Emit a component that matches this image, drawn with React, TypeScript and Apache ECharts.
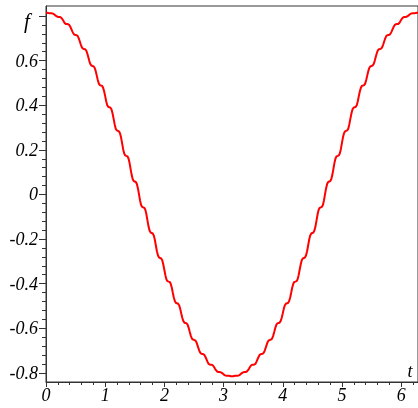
import React, { useEffect, useRef } from "react";
import * as echarts from "echarts";

// sampling step of t (the curve is read at 353 evenly spaced t values, 0 .. 2π)
const T_STEP = 0.01785;

// f values, t from 0 to π/2
const F_Q1 = [
  0.815, 0.815, 0.814, 0.813, 0.813, 0.813, 0.812, 0.810, 0.807, 0.802,
  0.799, 0.797, 0.796, 0.796, 0.794, 0.789, 0.782, 0.774, 0.767, 0.764,
  0.764, 0.763, 0.760, 0.752, 0.741, 0.730, 0.721, 0.716, 0.715, 0.714,
  0.710, 0.700, 0.686, 0.671, 0.659, 0.654, 0.652, 0.651, 0.646, 0.633,
  0.616, 0.598, 0.584, 0.578, 0.576, 0.575, 0.568, 0.554, 0.534, 0.513,
  0.497, 0.490, 0.488, 0.487, 0.479, 0.463, 0.441, 0.417, 0.400, 0.392,
  0.391, 0.389, 0.381, 0.363, 0.339, 0.314, 0.295, 0.287, 0.285, 0.283,
  0.274, 0.256, 0.230, 0.203, 0.184, 0.175, 0.173, 0.171, 0.162, 0.143,
  0.116, 0.089, 0.069, 0.060, 0.058, 0.056, 0.047, 0.027, 0.000,
];
// t from π/2 to π
const F_Q2 = [
  -0.027, -0.047, -0.056, -0.058, -0.060, -0.069, -0.089, -0.116, -0.143, -0.162,
  -0.171, -0.173, -0.175, -0.184, -0.203, -0.230, -0.256, -0.274, -0.283, -0.285,
  -0.287, -0.295, -0.314, -0.339, -0.363, -0.381, -0.389, -0.391, -0.392, -0.400,
  -0.417, -0.441, -0.463, -0.479, -0.487, -0.488, -0.490, -0.497, -0.513, -0.534,
  -0.554, -0.568, -0.575, -0.576, -0.578, -0.584, -0.598, -0.616, -0.633, -0.646,
  -0.651, -0.652, -0.654, -0.659, -0.671, -0.686, -0.700, -0.710, -0.714, -0.715,
  -0.716, -0.721, -0.730, -0.741, -0.752, -0.760, -0.763, -0.764, -0.764, -0.767,
  -0.774, -0.782, -0.789, -0.794, -0.796, -0.796, -0.797, -0.799, -0.802, -0.807,
  -0.810, -0.812, -0.813, -0.813, -0.813, -0.814, -0.815, -0.815,
];
// t from π to 3π/2
const F_Q3 = [
  -0.815, -0.814, -0.813, -0.813, -0.813, -0.812, -0.810, -0.807, -0.802, -0.799,
  -0.797, -0.796, -0.796, -0.794, -0.789, -0.782, -0.774, -0.767, -0.764, -0.764,
  -0.763, -0.760, -0.752, -0.741, -0.730, -0.721, -0.716, -0.715, -0.714, -0.710,
  -0.700, -0.686, -0.671, -0.659, -0.654, -0.652, -0.651, -0.646, -0.633, -0.616,
  -0.598, -0.584, -0.578, -0.576, -0.575, -0.568, -0.554, -0.534, -0.513, -0.497,
  -0.490, -0.488, -0.487, -0.479, -0.463, -0.441, -0.417, -0.400, -0.392, -0.391,
  -0.389, -0.381, -0.363, -0.339, -0.314, -0.295, -0.287, -0.285, -0.283, -0.274,
  -0.256, -0.230, -0.203, -0.184, -0.175, -0.173, -0.171, -0.162, -0.143, -0.116,
  -0.089, -0.069, -0.060, -0.058, -0.056, -0.047, -0.027, 0.000,
];
// t from 3π/2 to 2π
const F_Q4 = [
  0.027, 0.047, 0.056, 0.058, 0.060, 0.069, 0.089, 0.116, 0.143, 0.162,
  0.171, 0.173, 0.175, 0.184, 0.203, 0.230, 0.256, 0.274, 0.283, 0.285,
  0.287, 0.295, 0.314, 0.339, 0.363, 0.381, 0.389, 0.391, 0.392, 0.400,
  0.417, 0.441, 0.463, 0.479, 0.487, 0.488, 0.490, 0.497, 0.513, 0.534,
  0.554, 0.568, 0.575, 0.576, 0.578, 0.584, 0.598, 0.616, 0.633, 0.646,
  0.651, 0.652, 0.654, 0.659, 0.671, 0.686, 0.700, 0.710, 0.714, 0.715,
  0.716, 0.721, 0.730, 0.741, 0.752, 0.760, 0.763, 0.764, 0.764, 0.767,
  0.774, 0.782, 0.789, 0.794, 0.796, 0.796, 0.797, 0.799, 0.802, 0.807,
  0.810, 0.812, 0.813, 0.813, 0.813, 0.814, 0.815, 0.815,
];

const X_MIN = 0;
const X_MAX = 6.2832;
const Y_MIN = -0.841;
const Y_MAX = 0.845;

const X_MAJOR = [0, 1, 2, 3, 4, 5, 6];
const X_MINOR = [
  0.2, 0.4, 0.6, 0.8, 1.2, 1.4, 1.6, 1.8, 2.2, 2.4, 2.6, 2.8,
  3.2, 3.4, 3.6, 3.8, 4.2, 4.4, 4.6, 4.8, 5.2, 5.4, 5.6, 5.8, 6.2,
];
const Y_MAJOR = [-0.8, -0.6, -0.4, -0.2, 0, 0.2, 0.4, 0.6, 0.8];
const Y_LABELS = [-0.8, -0.6, -0.4, -0.2, 0, 0.2, 0.4, 0.6];
const Y_MINOR = [
  -0.76, -0.72, -0.68, -0.64, -0.56, -0.52, -0.48, -0.44,
  -0.36, -0.32, -0.28, -0.24, -0.16, -0.12, -0.08, -0.04,
  0.04, 0.08, 0.12, 0.16, 0.24, 0.28, 0.32, 0.36,
  0.44, 0.48, 0.52, 0.56, 0.64, 0.68, 0.72, 0.76,
];

const X_NAME = "t";
const Y_NAME = "f";

const AXIS_COLOR = "#333333";
const FONT = '"Liberation Serif", "Times New Roman", serif';

export default function App() {
  const ref = useRef<HTMLDivElement | null>(null);

  useEffect(() => {
    if (!ref.current) return;
    const chart = echarts.init(ref.current, null, { renderer: "svg" });
    const values = [...F_Q1, ...F_Q2, ...F_Q3, ...F_Q4];
    const data = values.map((f, i) => [i * T_STEP, f]);

    const labelStyle = {
      fontFamily: FONT,
      fontStyle: "italic" as const,
      fontSize: 18,
      color: "#000",
    };

    chart.setOption({
      animation: false,
      grid: {
        left: 46,
        right: -6,
        top: 6,
        bottom: 26,
        show: true,
        borderColor: AXIS_COLOR,
        borderWidth: 1,
        backgroundColor: "transparent",
      },
      xAxis: [
        {
          type: "value",
          min: X_MIN,
          max: X_MAX,
          position: "bottom",
          axisLine: { show: true, onZero: false, lineStyle: { color: AXIS_COLOR, width: 1 } },
          axisTick: { show: true, length: 5, customValues: X_MAJOR, lineStyle: { color: AXIS_COLOR } },
          axisLabel: { show: true, customValues: X_MAJOR, margin: 4, ...labelStyle },
          splitLine: { show: false },
        },
        {
          type: "value",
          min: X_MIN,
          max: X_MAX,
          position: "bottom",
          axisLine: { show: false, onZero: false },
          axisTick: { show: true, length: 3, customValues: X_MINOR, lineStyle: { color: AXIS_COLOR } },
          axisLabel: { show: false },
          splitLine: { show: false },
        },
      ],
      yAxis: [
        {
          type: "value",
          min: Y_MIN,
          max: Y_MAX,
          position: "left",
          axisLine: { show: true, onZero: false, lineStyle: { color: AXIS_COLOR, width: 1 } },
          axisTick: { show: true, length: 7, customValues: Y_MAJOR, lineStyle: { color: AXIS_COLOR } },
          axisLabel: { show: true, customValues: Y_LABELS, margin: 8, ...labelStyle },
          splitLine: { show: false },
        },
        {
          type: "value",
          min: Y_MIN,
          max: Y_MAX,
          position: "left",
          axisLine: { show: false, onZero: false },
          axisTick: { show: true, length: 4, customValues: Y_MINOR, lineStyle: { color: AXIS_COLOR } },
          axisLabel: { show: false },
          splitLine: { show: false },
        },
      ],
      series: [
        {
          type: "line",
          data,
          xAxisIndex: 0,
          yAxisIndex: 0,
          symbol: "none",
          showSymbol: false,
          lineStyle: { color: "#ff0000", width: 2 },
          clip: true,
        },
      ],
      graphic: [
        {
          type: "text",
          x: 27,
          y: 21,
          style: {
            text: Y_NAME,
            fontFamily: FONT,
            fontStyle: "italic",
            fontSize: 21,
            fill: "#000",
            align: "center",
            verticalAlign: "middle",
          },
        },
        {
          type: "text",
          x: 410,
          y: 371,
          style: {
            text: X_NAME,
            fontFamily: FONT,
            fontStyle: "italic",
            fontSize: 18,
            fill: "#000",
            align: "center",
            verticalAlign: "middle",
          },
        },
      ],
    });

    return () => {
      chart.dispose();
    };
  }, []);

  return (
    <div
      ref={ref}
      style={{ position: "fixed", left: 0, top: 0, width: 418, height: 408 }}
    />
  );
}
